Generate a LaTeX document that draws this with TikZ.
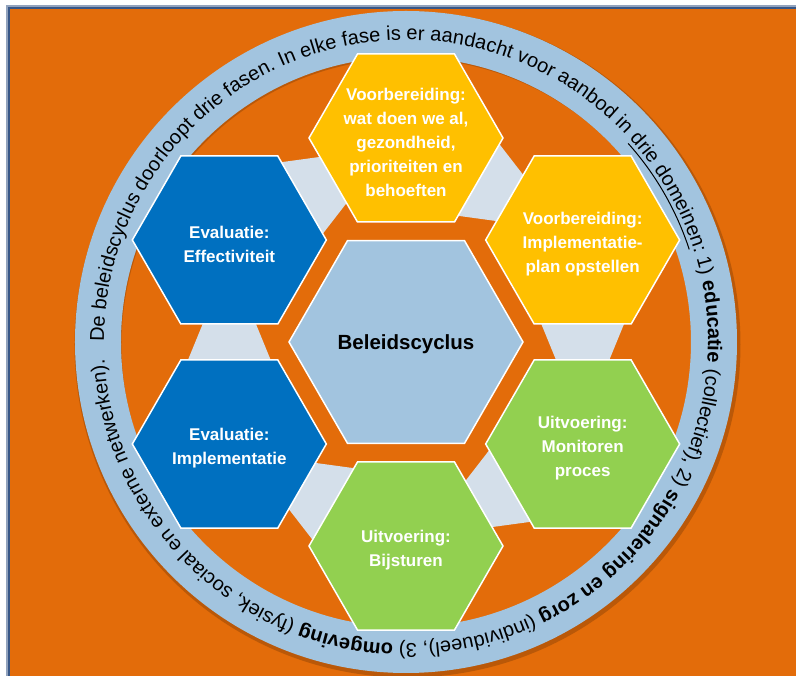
\documentclass[tikz,border=0pt]{standalone}
\usepackage{fontspec}
\setmainfont{Liberation Sans}
\usetikzlibrary{shapes.geometric,calc,decorations.text}
\definecolor{bgorange}{RGB}{227,108,10}
\definecolor{ringblue}{RGB}{162,196,223}
\definecolor{connblue}{RGB}{212,223,234}
\definecolor{hexyellow}{RGB}{255,192,0}
\definecolor{hexgreen}{RGB}{146,208,80}
\definecolor{hexblue}{RGB}{0,112,192}
\definecolor{frameblue}{RGB}{56,87,135}
\newcommand\ringfont{\fontsize{20}{24}\selectfont}
\pgfdeclarelayer{bg}\pgfdeclarelayer{conn}\pgfsetlayers{bg,conn,main}
\begin{document}
\begin{tikzpicture}[x=1pt,y=1pt,
  hexbox/.style={regular polygon, regular polygon sides=6, minimum size=194pt,
    inner sep=0pt, outer sep=0pt, draw=white, line width=1.5pt},
  hextext/.style={text=white, align=center, inner sep=0pt,
    font=\bfseries\fontsize{17}{24}\selectfont},
  centerhex/.style={regular polygon, regular polygon sides=6, minimum size=234pt,
    inner sep=0pt, outer sep=0pt, draw=white, line width=1.5pt, fill=ringblue,
    text=black, text height=15pt, text depth=0pt, font=\bfseries\fontsize{20.5}{24}\selectfont},
  conn/.style={fill=connblue}]
\useasboundingbox (-406,-334) rectangle (390,342);

% hexagons
\node[centerhex] (C) at (0,0) {Beleidscyclus};
\node[hexbox, fill=hexyellow] (T)  at (90:204)  {};
\node[hexbox, fill=hexyellow] (UR) at (30:204)  {};
\node[hexbox, fill=hexgreen]  (LR) at (-30:204) {};
\node[hexbox, fill=hexgreen]  (B)  at (-90:204) {};
\node[hexbox, fill=hexblue]   (LL) at (-150:204) {};
\node[hexbox, fill=hexblue]   (UL) at (150:204) {};

\node[hextext] (Tt)  at ([yshift=-4pt]T.center)  {Voorbereiding:\\wat doen we al,\\gezondheid,\\prioriteiten en\\behoeften};
\node[hextext] (URt) at ([yshift=-4pt]UR.center) {Voorbereiding:\\Implementatie-\\plan opstellen};
\node[hextext] (LRt) at ([yshift=-4pt]LR.center) {Uitvoering:\\Monitoren\\proces};
\node[hextext] (Bt)  at ([yshift=-4pt]B.center)  {Uitvoering:\\Bijsturen};
\node[hextext] (LLt) at ([yshift=-4pt]LL.center) {Evaluatie:\\Implementatie};
\node[hextext] (ULt) at ([yshift=-4pt]UL.center) {Evaluatie:\\Effectiviteit};

% connectors between hexagons
\begin{pgfonlayer}{conn}
\foreach \a/\b/\d in {T/UR/-30, UR/LR/-90, LR/B/-150, B/LL/150, LL/UL/90, UL/T/30}{
  \fill[conn] ($(\a.center)+(\d:80)+(\d+90:43)$) -- ($(\a.center)+(\d:80)+(\d-90:43)$)
    -- ($(\b.center)+(\d+180:80)+(\d-90:25)$) -- ($(\b.center)+(\d+180:80)+(\d+90:25)$) -- cycle;
}
\end{pgfonlayer}

% background, frame and ring
\begin{pgfonlayer}{bg}
\fill[white] (-406,-334) rectangle (390,342);
\fill[bgorange] (-396,-334) rectangle (390,333);
\draw[frameblue!55, line width=3pt] (-398,-334) -- (-398,335) -- (390,335);
\draw[frameblue, line width=1.5pt] (-397,-334) -- (-397,334) -- (390,334);
\fill[black, opacity=0.18, even odd rule] (1.5,-2.5) circle[radius=333pt] (1.5,-2.5) circle[radius=286pt];
\fill[ringblue, even odd rule] (0,0) circle[radius=331pt] (0,0) circle[radius=285pt];
\path[decorate, decoration={text along path, text align=fit to path,
  text={|\ringfont|De beleidscyclus doorloopt drie fasen. In elke fase is er aandacht voor aanbod in drie domeinen: 1) |\ringfont\bfseries|educatie|\ringfont| (collectief), 2) |\ringfont\bfseries|signalering en zorg|\ringfont| (individueel), 3) |\ringfont\bfseries|omgeving|\ringfont| (fysiek, sociaal en externe netwerken).}}]
  (180:302) arc[start angle=180, end angle=-176.6, radius=302pt];
\draw[black, line width=1pt] (41.8:298) arc[start angle=41.8, end angle=18.1, radius=298pt];
\end{pgfonlayer}
\end{tikzpicture}
\end{document}
